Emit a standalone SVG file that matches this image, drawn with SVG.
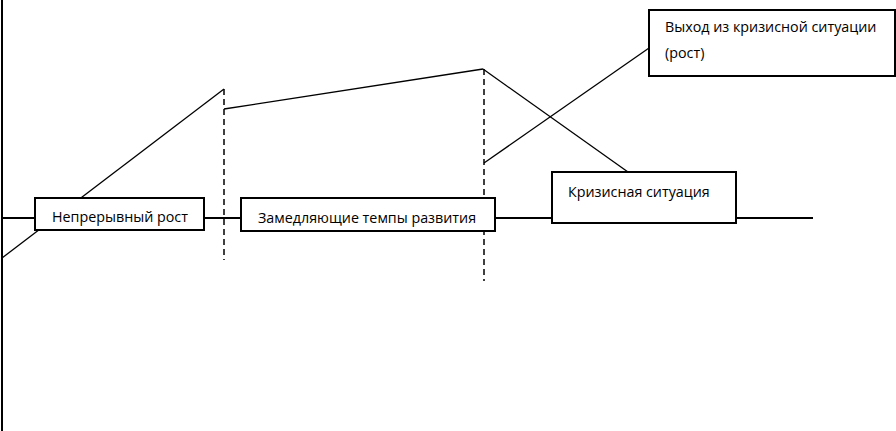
<svg xmlns="http://www.w3.org/2000/svg" width="896" height="431" viewBox="0 0 896 431">
<style>
.ln{stroke:#000;stroke-width:1.3;fill:none}
.ax{stroke:#000;stroke-width:2;fill:none}
.ds{stroke:#000;stroke-width:1.5;stroke-dasharray:6,4;fill:none}
.bx{fill:#fff;stroke:#000;stroke-width:2}
.tx{font-family:"Open Sans","Liberation Sans",sans-serif;font-size:14.3px;fill:#000}
</style>
<rect width="896" height="431" fill="#fff"/>
<g id="connectors">
<line class="ax" x1="2" y1="0" x2="2" y2="431"/>
<line class="ax" x1="2" y1="218" x2="813" y2="218"/>
<line class="ln" x1="2" y1="258" x2="224" y2="89"/>
<line class="ds" x1="224" y1="89" x2="224" y2="260"/>
<line class="ln" x1="224" y1="109" x2="483" y2="69"/>
<line class="ds" x1="484" y1="69" x2="484" y2="281"/>
<line class="ln" x1="483" y1="69" x2="628" y2="172"/>
<line class="ln" x1="484" y1="163" x2="649" y2="48"/>
</g>
<g id="node-growth">
<rect class="bx" x="35" y="198" width="169" height="32"/>
<text class="tx" x="52" y="222">Непрерывный рост</text>
</g>
<g id="node-slowdown">
<rect class="bx" x="241" y="198" width="254" height="33"/>
<text class="tx" x="258" y="223">Замедляющие темпы развития</text>
</g>
<g id="node-crisis">
<rect class="bx" x="552" y="172" width="184" height="51"/>
<text class="tx" x="568" y="197">Кризисная ситуация</text>
</g>
<g id="node-exit">
<rect class="bx" x="649" y="10" width="246" height="66"/>
<text class="tx" x="665" y="32">Выход из кризисной ситуации</text>
<text class="tx" x="665" y="58">(рост)</text>
</g>
</svg>
